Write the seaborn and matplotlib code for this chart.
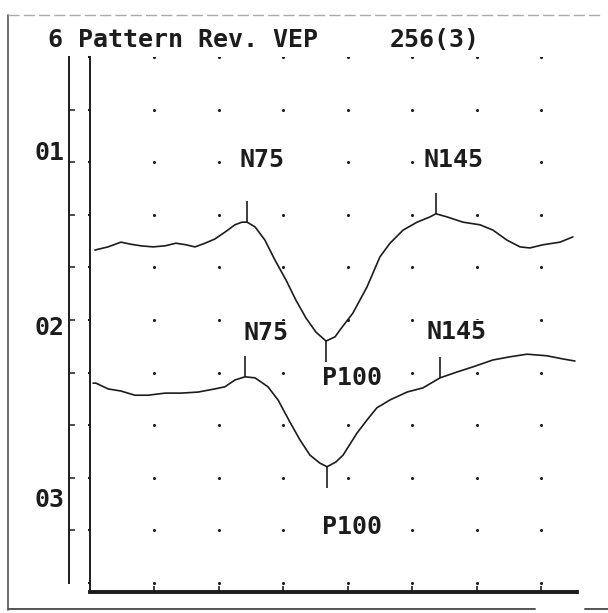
import numpy as np
import pandas as pd
import matplotlib
matplotlib.use('Agg')
import matplotlib.pyplot as plt
import seaborn as sns
from matplotlib.lines import Line2D

# grid of the printout: 25 ms per column, vertical in screen divisions
grid_ms = [25, 50, 75, 100, 125, 150, 175]
grid_rows = list(range(0, 11))

# O1 (upper) averaged trace
o1_ms = [1.9, 7.0, 12.0, 15.9, 19.8, 24.4, 29.1, 33.3, 37.2, 40.7, 44.6, 48.4,
         52.3, 56.2, 58.9, 60.9, 64.0, 67.8, 71.7, 76.0, 79.8, 83.7, 87.6, 91.5,
         95.0, 96.9, 101.9, 107.4, 112.4, 116.3, 121.4, 126.8, 131.8, 134.1,
         138.4, 144.6, 151.2, 156.2, 161.6, 166.7, 170.5, 175.6, 182.2, 187.2]
o1_amp = [6.33, 6.39, 6.48, 6.44, 6.41, 6.39, 6.41, 6.46, 6.43, 6.39, 6.46, 6.54,
          6.67, 6.81, 6.86, 6.86, 6.77, 6.52, 6.14, 5.76, 5.38, 5.04, 4.77, 4.60,
          4.68, 4.81, 5.13, 5.63, 6.20, 6.46, 6.71, 6.86, 6.96, 7.02,
          6.96, 6.86, 6.81, 6.71, 6.52, 6.39, 6.37, 6.43, 6.48, 6.58]

# O2 (lower) averaged trace
o2_ms = [1.2, 2.3, 7.0, 12.0, 17.4, 22.5, 29.1, 35.3, 41.9, 48.4, 52.3, 56.2,
         60.1, 64.0, 69.0, 72.9, 77.5, 81.4, 85.3, 89.1, 91.9, 95.3, 98.1, 103.5,
         107.4, 111.2, 116.3, 122.9, 129.1, 135.7, 142.2, 148.5, 156.2, 162.8,
         169.4, 177.1, 183.3, 188.0]
o2_amp = [3.80, 3.80, 3.69, 3.65, 3.57, 3.57, 3.61, 3.61, 3.63, 3.69, 3.73, 3.86,
          3.92, 3.90, 3.73, 3.48, 3.06, 2.72, 2.43, 2.28, 2.21, 2.30, 2.43, 2.85,
          3.10, 3.33, 3.48, 3.63, 3.71, 3.90, 4.01, 4.11, 4.24, 4.30,
          4.35, 4.32, 4.26, 4.22]

# peak markers
peak_names = ['N75', 'P100', 'N145']
peak_dir = [1, -1, 1]  # negative peaks marked upward, positive downward
o1_peak_ms = [60.9, 91.5, 134.1]
o1_peak_amp = [6.86, 4.60, 7.02]
o2_peak_ms = [60.1, 91.9, 135.7]
o2_peak_amp = [3.92, 2.21, 3.90]

# where the printer put the peak names
o1_label_ms = [66.7, 101.6, 141.1]
o1_label_y = [8.04, 3.90, 8.04]
o2_label_ms = [68.2, 101.6, 142.2]
o2_label_y = [4.75, 1.06, 4.77]

channel_labels = ['01', '02', '03']
channel_label_y = [8.23, 4.90, 1.62]

title_left = '6 Pattern Rev. VEP'
title_right = '256(3)'

ink = '#1c1c1c'
fsize = 18

sns.set_theme(style='white')
plt.rcParams['font.family'] = ['DejaVu Sans Mono']
plt.rcParams['font.weight'] = 'bold'

W, H = 608, 613
fig = plt.figure(figsize=(W / 100, H / 100), dpi=100)
fig.patch.set_facecolor('white')
ax = fig.add_axes([90 / W, (H - 592) / H, (577 - 90) / W, (592 - 57) / H])
ax.set_xlim(0, 188.8)
ax.set_ylim(-0.171, 10)

# dot grid
gx, gy = np.meshgrid(grid_ms, grid_rows)
dots = pd.DataFrame({'ms': gx.ravel(), 'row': gy.ravel()})
sns.scatterplot(data=dots, x='ms', y='row', ax=ax, s=5, color=ink,
                linewidth=0, legend=False, zorder=1)

# traces
for ms, amp in [(o1_ms, o1_amp), (o2_ms, o2_amp)]:
    df = pd.DataFrame({'ms': ms, 'amp': amp})
    sns.lineplot(data=df, x='ms', y='amp', ax=ax, sort=False, estimator=None,
                 color=ink, linewidth=1.2, zorder=4)

# peak ticks and names
for pk_ms, pk_amp, lb_ms, lb_y in [(o1_peak_ms, o1_peak_amp, o1_label_ms, o1_label_y),
                                   (o2_peak_ms, o2_peak_amp, o2_label_ms, o2_label_y)]:
    for name, d, x, y, tx, ty in zip(peak_names, peak_dir, pk_ms, pk_amp, lb_ms, lb_y):
        ax.vlines(x, y, y + 0.4 * d, color=ink, linewidth=1.2, zorder=4)
        ax.text(tx, ty, name, ha='center', va='center', fontsize=fsize, color=ink,
                zorder=3, bbox=dict(fc='white', ec='none', pad=0.3))

# inner axis (left) and time axis (bottom)
for s in ['top', 'right']:
    ax.spines[s].set_visible(False)
ax.spines['left'].set_color(ink)
ax.spines['left'].set_linewidth(1.4)
ax.spines['bottom'].set_color(ink)
ax.spines['bottom'].set_linewidth(2.8)
ax.set_xticks(grid_ms)
ax.set_yticks(grid_rows)
ax.tick_params(axis='x', direction='in', length=4, width=1.2, color=ink,
               labelbottom=False, bottom=True)
ax.tick_params(axis='y', direction='out', length=1.5, width=1.5, color=ink,
               labelleft=False, left=True)
ax.set_xlabel('')
ax.set_ylabel('')

# channel scale on the far left
ax2 = ax.twinx()
ax2.set_ylim(ax.get_ylim())
for s in ['top', 'right', 'bottom']:
    ax2.spines[s].set_visible(False)
ax2.spines['left'].set_visible(True)
ax2.spines['left'].set_position(('outward', 15))
ax2.spines['left'].set_bounds(0, 10)
ax2.spines['left'].set_color(ink)
ax2.spines['left'].set_linewidth(1.4)
ax2.yaxis.set_ticks_position('left')
ax2.set_yticks(grid_rows[1:-1])
ax2.set_yticklabels([])
ax2.set_yticks(channel_label_y, minor=True)
ax2.set_yticklabels(channel_labels, minor=True)
ax2.tick_params(axis='y', which='major', direction='in', length=4.5, width=1.1,
                color=ink)
ax2.tick_params(axis='y', which='minor', length=0, pad=3, labelsize=fsize,
                labelcolor=ink)

# header line
fig.text(48 / W, 1 - 40 / H, title_left, ha='left', va='center', fontsize=fsize, color=ink)
fig.text(390 / W, 1 - 40 / H, title_right, ha='left', va='center', fontsize=fsize, color=ink)

# paper edge of the scanned sheet
edge = '#555555'
fig.add_artist(Line2D([8 / W, 8 / W], [1 - 15 / H, 1 - 610 / H], transform=fig.transFigure,
                      color=edge, linewidth=1.2))
fig.add_artist(Line2D([8 / W, 600 / W], [1 - 15 / H, 1 - 15 / H], transform=fig.transFigure,
                      color='#aaaaaa', linewidth=1.0, linestyle=(0, (8, 3))))
fig.add_artist(Line2D([8 / W, 535 / W], [1 - 609 / H, 1 - 609 / H], transform=fig.transFigure,
                      color=edge, linewidth=1.4))
fig.add_artist(Line2D([585 / W, 608 / W], [1 - 609 / H, 1 - 609 / H], transform=fig.transFigure,
                      color=edge, linewidth=1.4))

fig.savefig('out.png', dpi=100, facecolor='white')
